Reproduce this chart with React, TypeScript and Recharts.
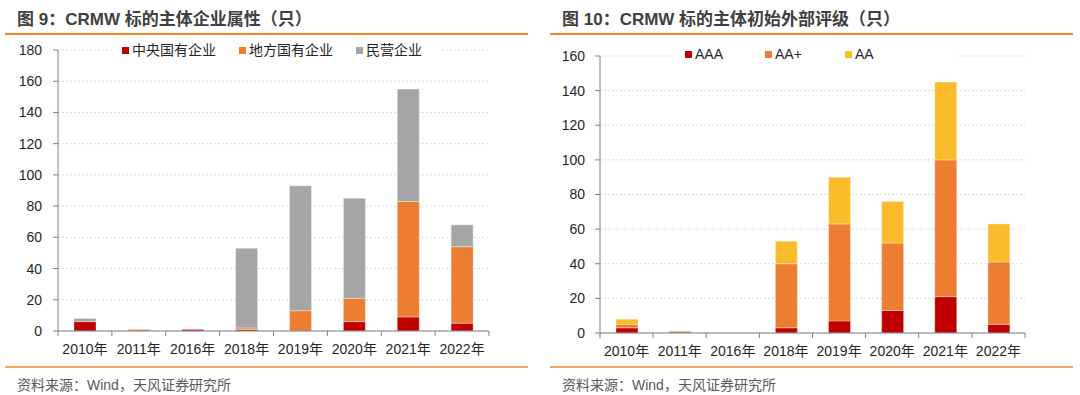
import { BarChart, Bar, XAxis, YAxis, CartesianGrid, Legend } from "recharts";

const years = ["2010年", "2011年", "2016年", "2018年", "2019年", "2020年", "2021年", "2022年"];

// 图9 企业属性
const central = [6, 0, 1, 1, 0, 6, 9, 5];
const local = [0, 1, 0, 1, 13, 15, 74, 49];
const privateCo = [2, 0, 0, 51, 80, 64, 72, 14];
const leftTicks = [0, 20, 40, 60, 80, 100, 120, 140, 160, 180];

// 图10 外部评级
const aaa = [3, 0, 0, 3, 7, 13, 21, 5];
const aaPlus = [2, 1, 0, 37, 56, 39, 79, 36];
const aa = [3, 0, 0, 13, 27, 24, 45, 22];
const rightTicks = [0, 20, 40, 60, 80, 100, 120, 140, 160];

const leftData = years.map((y, i) => ({ year: y, central: central[i], local: local[i], privateCo: privateCo[i] }));
const rightData = years.map((y, i) => ({ year: y, aaa: aaa[i], aaPlus: aaPlus[i], aa: aa[i] }));

const FONT = '"Liberation Sans", Arial, "Noto Sans CJK SC", sans-serif';
const RED = "#C00000";
const ORANGE = "#ED7D31";
const GRAY = "#A5A5A5";
const YELLOW = "#FBBC2C";

const leftSeries = [
  { key: "central", name: "中央国有企业", color: RED },
  { key: "local", name: "地方国有企业", color: ORANGE },
  { key: "privateCo", name: "民营企业", color: GRAY },
];
const rightSeries = [
  { key: "aaa", name: "AAA", color: RED },
  { key: "aaPlus", name: "AA+", color: ORANGE },
  { key: "aa", name: "AA", color: YELLOW },
];

const XTick = (props: any) => {
  const { x, y, payload, index, visibleTicksCount } = props;
  const off = payload.offset || 0;
  return (
    <g>
      <line x1={x - off} x2={x - off} y1={y - 8} y2={y - 3} stroke="#808080" />
      {index === visibleTicksCount - 1 && (
        <line x1={x + off} x2={x + off} y1={y - 8} y2={y - 3} stroke="#808080" />
      )}
      <text x={x} y={y + 15} textAnchor="middle" fontSize={14} fill="#262626" fontFamily={FONT}>
        {payload.value}
      </text>
    </g>
  );
};

const makeLegend = (items: typeof leftSeries, itemWidth: number) => () => (
  <div style={{ background: "#fff", display: "flex", padding: "0 10px", fontFamily: FONT, fontSize: 14, color: "#262626", lineHeight: "18px" }}>
    {items.map((p) => (
      <div key={p.key} style={{ width: itemWidth, flexShrink: 0, display: "flex", alignItems: "center", whiteSpace: "nowrap" }}>
        <span style={{ width: 7, height: 7, background: p.color, marginRight: 3, display: "inline-block" }} />
        <span>{p.name}</span>
      </div>
    ))}
  </div>
);

const Panel = ({ left, title }: { left: number; title: string }) => (
  <>
    <div style={{ position: "absolute", left: left + 17, top: 5, fontSize: 17, fontWeight: "bold", color: "#404040", fontFamily: FONT, whiteSpace: "nowrap" }}>
      {title}
    </div>
    <div style={{ position: "absolute", left: left + 5, top: 33, width: 523, height: 2, background: "#F58220" }} />
    <div style={{ position: "absolute", left: left + 5, top: 366, width: 523, height: 2, background: "#F9A55A" }} />
    <div style={{ position: "absolute", left: left + 17, top: 374, fontSize: 14, color: "#595959", fontFamily: FONT, whiteSpace: "nowrap" }}>
      资料来源：Wind，天风证券研究所
    </div>
  </>
);

export default function App() {
  const barStroke = "rgba(255,255,255,0.35)";
  return (
    <div style={{ position: "relative", width: 1080, height: 395, background: "#fff", overflow: "hidden" }}>
      <style>{`body{margin:0}`}</style>
      <Panel left={0} title="图 9：CRMW 标的主体企业属性（只）" />
      <Panel left={545} title="图 10：CRMW 标的主体初始外部评级（只）" />

      <div style={{ position: "absolute", left: 0, top: 0 }}>
        <BarChart width={540} height={395} data={leftData} margin={{ top: 50, right: 51, bottom: 34, left: 0 }}>
          <CartesianGrid vertical={false} stroke="#D9D9D9" strokeDasharray="2 2" />
          <XAxis dataKey="year" height={30} tick={<XTick />} tickLine={false} axisLine={{ stroke: "#808080" }} interval={0} />
          <YAxis width={58} domain={[0, 180]} ticks={leftTicks} interval={0} tickSize={5} tickMargin={11}
            tickLine={{ stroke: "#808080" }} axisLine={{ stroke: "#808080" }}
            tick={{ fontSize: 14, fill: "#262626", fontFamily: FONT }} />
          <Legend verticalAlign="middle" align="center" content={makeLegend(leftSeries, 117)}
            wrapperStyle={{ top: 41, left: 112, width: 330, height: 18, overflow: "hidden" }} />
          {leftSeries.map((s) => (
            <Bar key={s.key} dataKey={s.key} name={s.name} stackId="a" fill={s.color} stroke={barStroke} barSize={22} isAnimationActive={false} />
          ))}
        </BarChart>
      </div>

      <div style={{ position: "absolute", left: 540, top: 0 }}>
        <BarChart width={540} height={395} data={rightData} margin={{ top: 56, right: 55, bottom: 32, left: 0 }}>
          <CartesianGrid vertical={false} stroke="#D9D9D9" strokeDasharray="2 2" />
          <XAxis dataKey="year" height={30} tick={<XTick />} tickLine={false} axisLine={{ stroke: "#808080" }} interval={0} />
          <YAxis width={60} domain={[0, 160]} ticks={rightTicks} interval={0} tickSize={5} tickMargin={10}
            tickLine={{ stroke: "#808080" }} axisLine={{ stroke: "#808080" }}
            tick={{ fontSize: 14, fill: "#262626", fontFamily: FONT }} />
          <Legend verticalAlign="middle" align="center" content={makeLegend(rightSeries, 80)}
            wrapperStyle={{ top: 45, left: 135, width: 280, height: 18 }} />
          {rightSeries.map((s) => (
            <Bar key={s.key} dataKey={s.key} name={s.name} stackId="b" fill={s.color} stroke={barStroke} barSize={22} isAnimationActive={false} />
          ))}
        </BarChart>
      </div>
    </div>
  );
}
